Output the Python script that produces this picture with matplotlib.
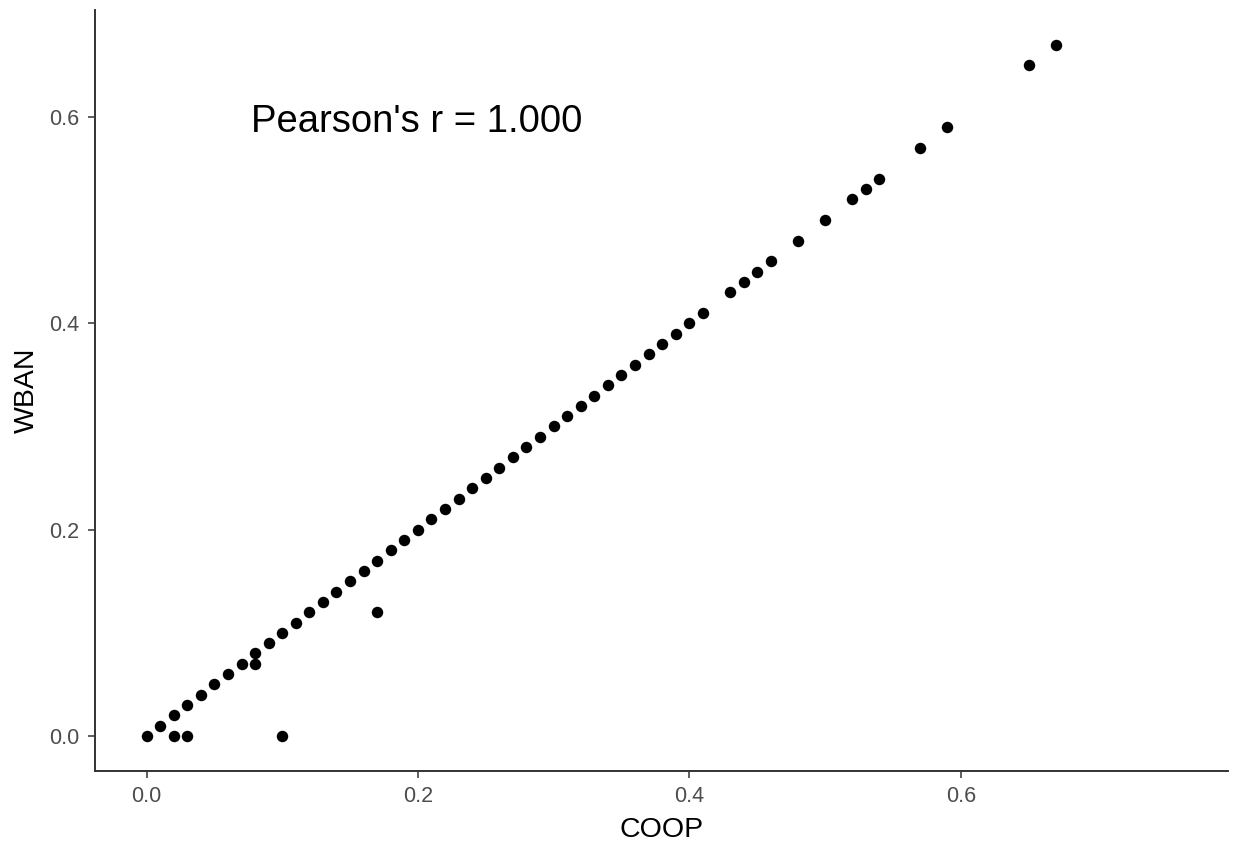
import matplotlib
matplotlib.use("Agg")
import matplotlib.pyplot as plt

plt.rcParams['font.family'] = ['Liberation Sans', 'DejaVu Sans']

# points (COOP vs WBAN)
coop = [0.00, 0.01, 0.02, 0.03, 0.04, 0.05, 0.06, 0.07, 0.08, 0.09,
        0.10, 0.11, 0.12, 0.13, 0.14, 0.15, 0.16, 0.17, 0.18, 0.19,
        0.20, 0.21, 0.22, 0.23, 0.24, 0.25, 0.26, 0.27, 0.28, 0.29,
        0.30, 0.31, 0.32, 0.33, 0.34, 0.35, 0.36, 0.37, 0.38, 0.39,
        0.40, 0.41, 0.43, 0.44, 0.45, 0.46, 0.48, 0.50, 0.52, 0.53,
        0.54, 0.57, 0.59, 0.65, 0.67,
        0.02, 0.03, 0.10, 0.08, 0.17]
wban = [0.00, 0.01, 0.02, 0.03, 0.04, 0.05, 0.06, 0.07, 0.08, 0.09,
        0.10, 0.11, 0.12, 0.13, 0.14, 0.15, 0.16, 0.17, 0.18, 0.19,
        0.20, 0.21, 0.22, 0.23, 0.24, 0.25, 0.26, 0.27, 0.28, 0.29,
        0.30, 0.31, 0.32, 0.33, 0.34, 0.35, 0.36, 0.37, 0.38, 0.39,
        0.40, 0.41, 0.43, 0.44, 0.45, 0.46, 0.48, 0.50, 0.52, 0.53,
        0.54, 0.57, 0.59, 0.65, 0.67,
        0.00, 0.00, 0.00, 0.07, 0.12]
ticks = [0.0, 0.2, 0.4, 0.6]
tick_labels = ["0.0", "0.2", "0.4", "0.6"]
label_text = "Pearson's r = 1.000"

fig = plt.figure(figsize=(12.33, 8.44), dpi=100)
ax = fig.add_axes([0.077, 0.087, 0.919, 0.901])

ax.scatter(coop, wban, s=68, color="black", linewidths=0, zorder=3)
ax.text(0.199, 0.595, label_text, fontsize=27.5, ha="center", va="center", color="black")

ax.set_xlim(-0.038, 0.797)
ax.set_ylim(-0.0335, 0.7035)
ax.set_xticks(ticks)
ax.set_xticklabels(tick_labels)
ax.set_yticks(ticks)
ax.set_yticklabels(tick_labels)

for side in ["top", "right"]:
    ax.spines[side].set_visible(False)
for side in ["left", "bottom"]:
    ax.spines[side].set_color("#333333")
    ax.spines[side].set_linewidth(1.4)
ax.tick_params(axis="both", direction="out", length=5, width=1.1, color="#333333",
               labelcolor="#4D4D4D", labelsize=15.5, pad=6)

ax.set_xlabel("COOP", fontsize=20.5, labelpad=7)
ax.set_ylabel("WBAN", fontsize=20.5, labelpad=7)

fig.savefig("out.png", dpi=100)
